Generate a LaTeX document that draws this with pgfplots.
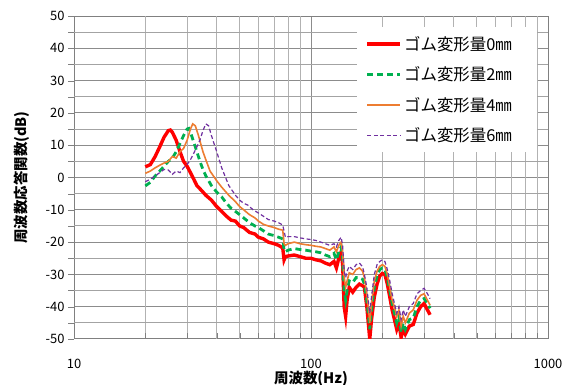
\documentclass[border=0pt]{standalone}
\usepackage{fontspec}
\setmainfont{Noto Sans CJK JP}
\usepackage{pgfplots}
\pgfplotsset{compat=1.18}
\definecolor{cRed}{RGB}{255,0,0}
\definecolor{cGreen}{RGB}{0,176,80}
\definecolor{cOrange}{RGB}{237,125,49}
\definecolor{cPurple}{RGB}{112,48,160}
\begin{document}
\begin{tikzpicture}
\useasboundingbox (0,0) rectangle (574bp,385bp);
\begin{axis}[
  at={(74bp,46bp)}, anchor=south west,
  scale only axis, width=474bp, height=323bp,
  xmode=log, log basis x=10,
  xmin=10, xmax=1000, ymin=-50, ymax=50,
  xtick={10,100,1000}, xticklabels={10,100,1000},
  ytick={-50,-40,...,50},
  yticklabels={-50,-40,-30,-20,-10,0,10,20,30,40,50},
  extra x ticks={20,30,40,50,60,70,80,90,200,300,400,500,600,700,800,900},
  extra x tick labels={,,,,,,,,,,,,,,,},
  extra x tick style={grid=major, major grid style={draw=black!30, line width=1bp}},
  extra y ticks={-45,-35,-25,-15,-5,5,15,25,35,45},
  extra y tick labels={,,,,,,,,,},
  extra y tick style={grid=major, major grid style={draw=black!36, line width=1bp}},
  grid=major,
  major grid style={draw=black!45, line width=1bp},
  axis line style={draw=black!50, line width=1bp},
  xtick align=inside, ytick align=outside, tick pos=left,
  major tick length=6bp,
  tick style={draw=black!50},
  ticklabel style={font=\fontsize{13}{15}\selectfont},
  xticklabel style={yshift=-17bp},
  xlabel={\bfseries 周波数(Hz)},
  ylabel={\bfseries 周波数応答関数(dB)},
  label style={font=\fontsize{14.5}{16}\selectfont},
  xlabel style={yshift=5bp},
  ylabel style={yshift=-3bp},
  legend style={at={(rel axis cs:0.977,0.966)}, anchor=north east, draw=none, fill=white,
    font=\fontsize{16.5}{18}\selectfont, row sep=11bp, inner xsep=9bp, inner ysep=7bp},
  legend cell align=left,
  legend image code/.code={\draw[#1] (0bp,0bp) -- (33bp,0bp);},
]
\addplot[cRed, line width=3.4bp] coordinates {
(20,3.3)(21,4.0)(22,6.5)(23,9.5)(24,12.5)(25,14.5)(25.5,14.7)(26,14)(27,11.5)(28,8)(29,5)(30,3.5)(31,1.5)(32,-0.5)(33,-2.5)(34,-3.5)(35,-4.5)(36,-5.5)(38,-7)(40,-9)(42,-10.5)(44,-12)(46,-13.2)(48,-13.5)(50,-15)(52,-15.5)(55,-17)(58,-17.5)(60,-18.5)(63,-19)(66,-20)(70,-20.5)(73,-21)(76,-21.8)(77,-25.5)(78,-24.5)(80,-24.3)(85,-24)(90,-24.5)(95,-25)(100,-25)(105,-25.5)(110,-25.8)(115,-26.5)(120,-27)(125,-26)(128,-28)(131,-25)(134,-23)(136,-27)(138,-40)(140,-43)(142,-38)(145,-34)(150,-35.5)(155,-34)(160,-33)(165,-33.5)(168,-34)(172,-40)(175,-46)(177,-50)(180,-44)(185,-37)(190,-33)(195,-30.5)(200,-29.7)(205,-30)(210,-33)(215,-37)(220,-41)(225,-44)(230,-47)(235,-45)(240,-49.5)(245,-47)(250,-48.5)(260,-46)(270,-45.5)(280,-42)(290,-40)(300,-39)(310,-41)(318,-42.5)
};
\addlegendentry{ゴム変形量0㎜\hspace*{14bp}}
\addplot[cGreen, line width=2.8bp, dash pattern=on 6bp off 4bp] coordinates {
(20,-2.6)(21,-1.5)(22,0.5)(23,2)(24,3.5)(25,5)(26,6)(27,8)(28,10.5)(29,13)(30,15)(30.5,15.2)(31,14)(32,11)(33,8)(34,5)(35,2.5)(36,0.5)(38,-2.5)(40,-4.5)(42,-6)(44,-8)(46,-9.5)(48,-10.5)(50,-11.5)(52,-12.5)(55,-14)(58,-15)(60,-15.5)(63,-16.5)(66,-17.5)(70,-18)(73,-18.5)(76,-19)(77,-22.5)(78,-23)(80,-22.5)(85,-22)(90,-22.3)(95,-22.5)(100,-22.8)(105,-23)(110,-23.3)(115,-24)(120,-24.5)(125,-23.5)(128,-25.5)(131,-23)(134,-21.5)(136,-25)(138,-35)(140,-38)(142,-35)(145,-32)(150,-32.5)(155,-31)(160,-31)(165,-31.5)(168,-33)(172,-38)(175,-43)(177,-47)(180,-41)(185,-34)(190,-30.5)(195,-28.5)(200,-28)(205,-28.5)(210,-31)(215,-35)(220,-39)(225,-42)(230,-45)(235,-43)(240,-48)(245,-45)(250,-47)(260,-44)(270,-43.5)(280,-40)(290,-38)(300,-37.5)(310,-39)(318,-40.5)
};
\addlegendentry{ゴム変形量2㎜\hspace*{14bp}}
\addplot[color=cOrange, line width=1.6bp] coordinates {
(20,1.3)(21,2)(22,3)(23,3.8)(24,4.5)(25,5)(26,6.5)(27,6)(28,8)(29,9)(30,11.5)(31,15)(31.7,16.6)(32.5,16)(33.5,13)(35,8)(36,5.5)(37.5,2)(40,-1)(42,-3)(45,-5.5)(48,-7.5)(50,-9)(52,-10)(55,-11.5)(58,-12.5)(60,-13.5)(63,-14.5)(66,-15)(70,-15.5)(73,-16)(76,-16.3)(77,-20.5)(78,-21)(80,-20.5)(85,-20)(90,-20.5)(95,-20.8)(100,-21)(105,-21.3)(110,-21.5)(115,-22)(120,-22.5)(125,-21.5)(128,-23)(131,-21)(134,-20)(136,-23)(138,-31)(140,-34)(142,-32)(145,-29.5)(150,-30)(155,-28.5)(160,-28)(165,-29)(168,-31)(172,-36)(175,-41)(177,-45)(180,-39)(185,-32)(190,-29)(195,-27.5)(200,-27)(205,-27.5)(210,-30)(215,-34)(220,-38)(225,-40)(230,-43)(235,-41)(240,-46)(245,-43)(250,-45)(260,-42)(270,-41)(280,-38)(290,-36.5)(300,-36)(310,-38)(318,-39.5)
};
\addlegendentry{ゴム変形量4㎜\hspace*{14bp}}
\addplot[color=cPurple, line width=1.2bp, dash pattern=on 4bp off 2.5bp] coordinates {
(20,-1.3)(21,-0.5)(22,0.5)(23,1.5)(24,2.5)(25,2.3)(26,1)(27,2)(28,1.5)(29,3)(30,4)(31,5.5)(32,7.5)(33,9.5)(34,11.6)(35,14.5)(36,16.6)(37,16)(38,13)(40,8)(42,3)(45,-2.5)(48,-5.5)(50,-7)(52,-8)(54,-8.5)(57,-10)(60,-11)(63,-12)(66,-13)(70,-13.5)(73,-14)(76,-14.7)(78,-18.5)(80,-18.3)(85,-18.3)(90,-18.7)(95,-19)(100,-19.2)(105,-19.5)(110,-20)(115,-20.5)(120,-21)(125,-20.5)(128,-21.5)(131,-19.5)(134,-18.5)(136,-21)(138,-29)(140,-31)(142,-29)(145,-27.5)(150,-28.5)(155,-27)(160,-26.5)(165,-27.6)(168,-30)(172,-34)(175,-39)(177,-42)(180,-37)(185,-30)(190,-27)(195,-26)(200,-25.5)(205,-26)(210,-28.5)(215,-32)(220,-36)(225,-39)(230,-42)(235,-40)(240,-44)(245,-41)(250,-43)(260,-40)(270,-39)(280,-36)(290,-35)(300,-34.3)(310,-36)(318,-37.5)
};
\addlegendentry{ゴム変形量6㎜\hspace*{14bp}}
\end{axis}
\end{tikzpicture}
\end{document}
